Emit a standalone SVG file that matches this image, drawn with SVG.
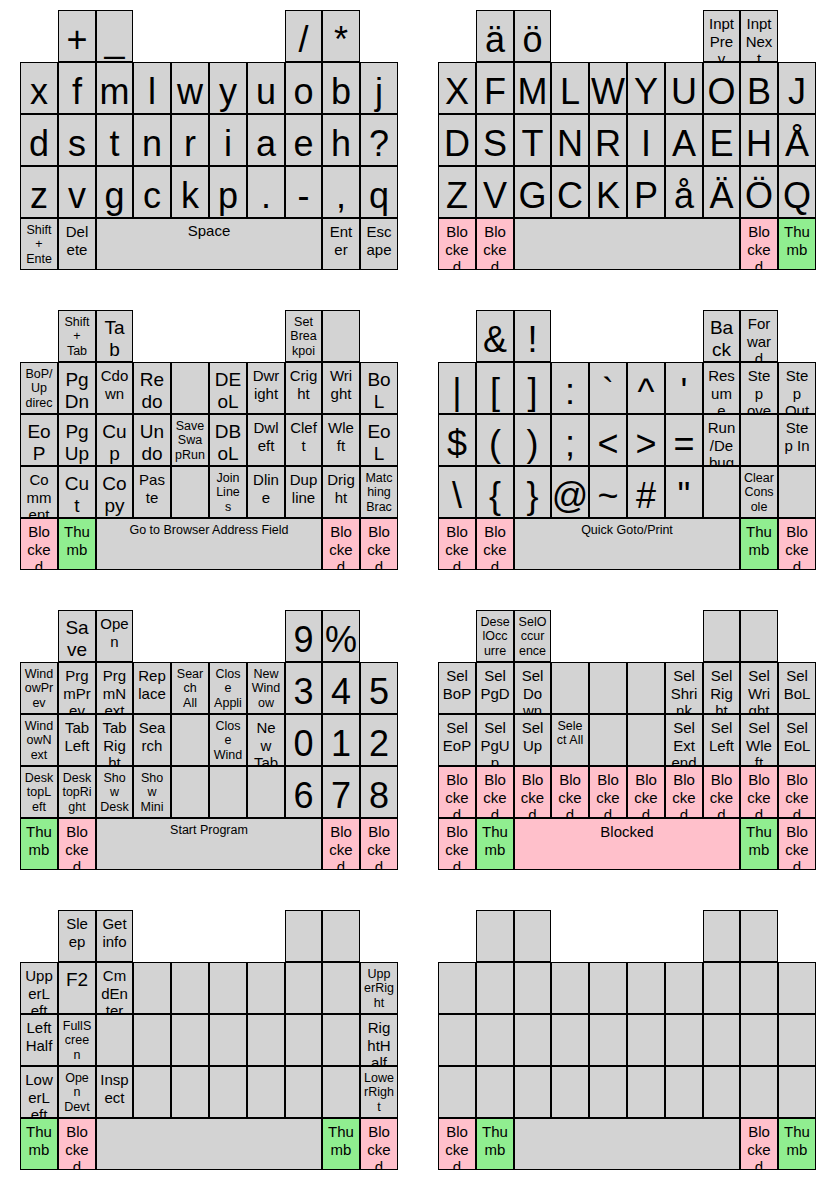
<svg xmlns="http://www.w3.org/2000/svg" width="836" height="1197" viewBox="0 0 836 1197">
<style>
.g{fill:#d3d3d3;stroke:#000;stroke-width:1}
.p{fill:#ffc0cb;stroke:#000;stroke-width:1}
.t{fill:#90ee90;stroke:#000;stroke-width:1}
text{font-family:"Liberation Sans",Arial,Helvetica,sans-serif;text-anchor:middle;fill:#000}
.a{font-size:36px}
.b{font-size:19px}
.c{font-size:15px}
.d{font-size:12.5px}
</style>
<rect width="836" height="1197" fill="#fff"/>

<g id="panel1">
<g id="k1-tc1"><rect class="g" x="58.5" y="10.5" width="37" height="51"/><svg x="59" y="11" width="36" height="50"><text class="a" x="50%" y="40.5">+</text></svg></g>
<g id="k1-tc2"><rect class="g" x="96.5" y="10.5" width="36" height="51"/><svg x="97" y="11" width="35" height="50"><text class="a" x="50%" y="40.5">_</text></svg></g>
<g id="k1-tc7"><rect class="g" x="285.5" y="10.5" width="36" height="51"/><svg x="286" y="11" width="35" height="50"><text class="a" x="50%" y="40.5">/</text></svg></g>
<g id="k1-tc8"><rect class="g" x="322.5" y="10.5" width="37" height="51"/><svg x="323" y="11" width="36" height="50"><text class="a" x="50%" y="40.5">*</text></svg></g>
<g id="k1-1c0"><rect class="g" x="20.5" y="62.5" width="37" height="51"/><svg x="21" y="63" width="36" height="50"><text class="a" x="50%" y="40.5">x</text></svg></g>
<g id="k1-1c1"><rect class="g" x="58.5" y="62.5" width="37" height="51"/><svg x="59" y="63" width="36" height="50"><text class="a" x="50%" y="40.5">f</text></svg></g>
<g id="k1-1c2"><rect class="g" x="96.5" y="62.5" width="36" height="51"/><svg x="97" y="63" width="35" height="50"><text class="a" x="50%" y="40.5">m</text></svg></g>
<g id="k1-1c3"><rect class="g" x="133.5" y="62.5" width="37" height="51"/><svg x="134" y="63" width="36" height="50"><text class="a" x="50%" y="40.5">l</text></svg></g>
<g id="k1-1c4"><rect class="g" x="171.5" y="62.5" width="37" height="51"/><svg x="172" y="63" width="36" height="50"><text class="a" x="50%" y="40.5">w</text></svg></g>
<g id="k1-1c5"><rect class="g" x="209.5" y="62.5" width="37" height="51"/><svg x="210" y="63" width="36" height="50"><text class="a" x="50%" y="40.5">y</text></svg></g>
<g id="k1-1c6"><rect class="g" x="247.5" y="62.5" width="37" height="51"/><svg x="248" y="63" width="36" height="50"><text class="a" x="50%" y="40.5">u</text></svg></g>
<g id="k1-1c7"><rect class="g" x="285.5" y="62.5" width="36" height="51"/><svg x="286" y="63" width="35" height="50"><text class="a" x="50%" y="40.5">o</text></svg></g>
<g id="k1-1c8"><rect class="g" x="322.5" y="62.5" width="37" height="51"/><svg x="323" y="63" width="36" height="50"><text class="a" x="50%" y="40.5">b</text></svg></g>
<g id="k1-1c9"><rect class="g" x="360.5" y="62.5" width="37" height="51"/><svg x="361" y="63" width="36" height="50"><text class="a" x="50%" y="40.5">j</text></svg></g>
<g id="k1-2c0"><rect class="g" x="20.5" y="114.5" width="37" height="51"/><svg x="21" y="115" width="36" height="50"><text class="a" x="50%" y="40.5">d</text></svg></g>
<g id="k1-2c1"><rect class="g" x="58.5" y="114.5" width="37" height="51"/><svg x="59" y="115" width="36" height="50"><text class="a" x="50%" y="40.5">s</text></svg></g>
<g id="k1-2c2"><rect class="g" x="96.5" y="114.5" width="36" height="51"/><svg x="97" y="115" width="35" height="50"><text class="a" x="50%" y="40.5">t</text></svg></g>
<g id="k1-2c3"><rect class="g" x="133.5" y="114.5" width="37" height="51"/><svg x="134" y="115" width="36" height="50"><text class="a" x="50%" y="40.5">n</text></svg></g>
<g id="k1-2c4"><rect class="g" x="171.5" y="114.5" width="37" height="51"/><svg x="172" y="115" width="36" height="50"><text class="a" x="50%" y="40.5">r</text></svg></g>
<g id="k1-2c5"><rect class="g" x="209.5" y="114.5" width="37" height="51"/><svg x="210" y="115" width="36" height="50"><text class="a" x="50%" y="40.5">i</text></svg></g>
<g id="k1-2c6"><rect class="g" x="247.5" y="114.5" width="37" height="51"/><svg x="248" y="115" width="36" height="50"><text class="a" x="50%" y="40.5">a</text></svg></g>
<g id="k1-2c7"><rect class="g" x="285.5" y="114.5" width="36" height="51"/><svg x="286" y="115" width="35" height="50"><text class="a" x="50%" y="40.5">e</text></svg></g>
<g id="k1-2c8"><rect class="g" x="322.5" y="114.5" width="37" height="51"/><svg x="323" y="115" width="36" height="50"><text class="a" x="50%" y="40.5">h</text></svg></g>
<g id="k1-2c9"><rect class="g" x="360.5" y="114.5" width="37" height="51"/><svg x="361" y="115" width="36" height="50"><text class="a" x="50%" y="40.5">?</text></svg></g>
<g id="k1-3c0"><rect class="g" x="20.5" y="166.5" width="37" height="51"/><svg x="21" y="167" width="36" height="50"><text class="a" x="50%" y="40.5">z</text></svg></g>
<g id="k1-3c1"><rect class="g" x="58.5" y="166.5" width="37" height="51"/><svg x="59" y="167" width="36" height="50"><text class="a" x="50%" y="40.5">v</text></svg></g>
<g id="k1-3c2"><rect class="g" x="96.5" y="166.5" width="36" height="51"/><svg x="97" y="167" width="35" height="50"><text class="a" x="50%" y="40.5">g</text></svg></g>
<g id="k1-3c3"><rect class="g" x="133.5" y="166.5" width="37" height="51"/><svg x="134" y="167" width="36" height="50"><text class="a" x="50%" y="40.5">c</text></svg></g>
<g id="k1-3c4"><rect class="g" x="171.5" y="166.5" width="37" height="51"/><svg x="172" y="167" width="36" height="50"><text class="a" x="50%" y="40.5">k</text></svg></g>
<g id="k1-3c5"><rect class="g" x="209.5" y="166.5" width="37" height="51"/><svg x="210" y="167" width="36" height="50"><text class="a" x="50%" y="40.5">p</text></svg></g>
<g id="k1-3c6"><rect class="g" x="247.5" y="166.5" width="37" height="51"/><svg x="248" y="167" width="36" height="50"><text class="a" x="50%" y="40.5">.</text></svg></g>
<g id="k1-3c7"><rect class="g" x="285.5" y="166.5" width="36" height="51"/><svg x="286" y="167" width="35" height="50"><text class="a" x="50%" y="40.5">-</text></svg></g>
<g id="k1-3c8"><rect class="g" x="322.5" y="166.5" width="37" height="51"/><svg x="323" y="167" width="36" height="50"><text class="a" x="50%" y="40.5">,</text></svg></g>
<g id="k1-3c9"><rect class="g" x="360.5" y="166.5" width="37" height="51"/><svg x="361" y="167" width="36" height="50"><text class="a" x="50%" y="40.5">q</text></svg></g>
<g id="k1-hc0"><rect class="g" x="20.5" y="218.5" width="37" height="51"/><svg x="21" y="219" width="36" height="50"><text class="d"><tspan x="50%" y="14.5">Shift</tspan><tspan x="50%" y="29.2">+</tspan><tspan x="50%" y="43.9">Ente</tspan></text></svg></g>
<g id="k1-hc1"><rect class="g" x="58.5" y="218.5" width="37" height="51"/><svg x="59" y="219" width="36" height="50"><text class="c"><tspan x="50%" y="18">Del</tspan><tspan x="50%" y="35.7">ete</tspan></text></svg></g>
<g id="k1-hw"><rect class="g" x="96.5" y="218.5" width="225" height="51"/><svg x="97" y="219" width="224" height="50"><text class="c" x="50%" y="17">Space</text></svg></g>
<g id="k1-hc8"><rect class="g" x="322.5" y="218.5" width="37" height="51"/><svg x="323" y="219" width="36" height="50"><text class="c"><tspan x="50%" y="18">Ent</tspan><tspan x="50%" y="35.7">er</tspan></text></svg></g>
<g id="k1-hc9"><rect class="g" x="360.5" y="218.5" width="37" height="51"/><svg x="361" y="219" width="36" height="50"><text class="c"><tspan x="50%" y="18">Esc</tspan><tspan x="50%" y="35.7">ape</tspan></text></svg></g>
</g>

<g id="panel2" transform="translate(418,0)">
<g id="k2-tc1"><rect class="g" x="58.5" y="10.5" width="37" height="51"/><svg x="59" y="11" width="36" height="50"><text class="a" x="50%" y="40.5">ä</text></svg></g>
<g id="k2-tc2"><rect class="g" x="96.5" y="10.5" width="36" height="51"/><svg x="97" y="11" width="35" height="50"><text class="a" x="50%" y="40.5">ö</text></svg></g>
<g id="k2-tc7"><rect class="g" x="285.5" y="10.5" width="36" height="51"/><svg x="286" y="11" width="35" height="50"><text class="c"><tspan x="50%" y="18">Inpt</tspan><tspan x="50%" y="35.7">Pre</tspan><tspan x="50%" y="53.4">v</tspan></text></svg></g>
<g id="k2-tc8"><rect class="g" x="322.5" y="10.5" width="37" height="51"/><svg x="323" y="11" width="36" height="50"><text class="c"><tspan x="50%" y="18">Inpt</tspan><tspan x="50%" y="35.7">Nex</tspan><tspan x="50%" y="53.4">t</tspan></text></svg></g>
<g id="k2-1c0"><rect class="g" x="20.5" y="62.5" width="37" height="51"/><svg x="21" y="63" width="36" height="50"><text class="a" x="50%" y="40.5">X</text></svg></g>
<g id="k2-1c1"><rect class="g" x="58.5" y="62.5" width="37" height="51"/><svg x="59" y="63" width="36" height="50"><text class="a" x="50%" y="40.5">F</text></svg></g>
<g id="k2-1c2"><rect class="g" x="96.5" y="62.5" width="36" height="51"/><svg x="97" y="63" width="35" height="50"><text class="a" x="50%" y="40.5">M</text></svg></g>
<g id="k2-1c3"><rect class="g" x="133.5" y="62.5" width="37" height="51"/><svg x="134" y="63" width="36" height="50"><text class="a" x="50%" y="40.5">L</text></svg></g>
<g id="k2-1c4"><rect class="g" x="171.5" y="62.5" width="37" height="51"/><svg x="172" y="63" width="36" height="50"><text class="a" x="50%" y="40.5">W</text></svg></g>
<g id="k2-1c5"><rect class="g" x="209.5" y="62.5" width="37" height="51"/><svg x="210" y="63" width="36" height="50"><text class="a" x="50%" y="40.5">Y</text></svg></g>
<g id="k2-1c6"><rect class="g" x="247.5" y="62.5" width="37" height="51"/><svg x="248" y="63" width="36" height="50"><text class="a" x="50%" y="40.5">U</text></svg></g>
<g id="k2-1c7"><rect class="g" x="285.5" y="62.5" width="36" height="51"/><svg x="286" y="63" width="35" height="50"><text class="a" x="50%" y="40.5">O</text></svg></g>
<g id="k2-1c8"><rect class="g" x="322.5" y="62.5" width="37" height="51"/><svg x="323" y="63" width="36" height="50"><text class="a" x="50%" y="40.5">B</text></svg></g>
<g id="k2-1c9"><rect class="g" x="360.5" y="62.5" width="37" height="51"/><svg x="361" y="63" width="36" height="50"><text class="a" x="50%" y="40.5">J</text></svg></g>
<g id="k2-2c0"><rect class="g" x="20.5" y="114.5" width="37" height="51"/><svg x="21" y="115" width="36" height="50"><text class="a" x="50%" y="40.5">D</text></svg></g>
<g id="k2-2c1"><rect class="g" x="58.5" y="114.5" width="37" height="51"/><svg x="59" y="115" width="36" height="50"><text class="a" x="50%" y="40.5">S</text></svg></g>
<g id="k2-2c2"><rect class="g" x="96.5" y="114.5" width="36" height="51"/><svg x="97" y="115" width="35" height="50"><text class="a" x="50%" y="40.5">T</text></svg></g>
<g id="k2-2c3"><rect class="g" x="133.5" y="114.5" width="37" height="51"/><svg x="134" y="115" width="36" height="50"><text class="a" x="50%" y="40.5">N</text></svg></g>
<g id="k2-2c4"><rect class="g" x="171.5" y="114.5" width="37" height="51"/><svg x="172" y="115" width="36" height="50"><text class="a" x="50%" y="40.5">R</text></svg></g>
<g id="k2-2c5"><rect class="g" x="209.5" y="114.5" width="37" height="51"/><svg x="210" y="115" width="36" height="50"><text class="a" x="50%" y="40.5">I</text></svg></g>
<g id="k2-2c6"><rect class="g" x="247.5" y="114.5" width="37" height="51"/><svg x="248" y="115" width="36" height="50"><text class="a" x="50%" y="40.5">A</text></svg></g>
<g id="k2-2c7"><rect class="g" x="285.5" y="114.5" width="36" height="51"/><svg x="286" y="115" width="35" height="50"><text class="a" x="50%" y="40.5">E</text></svg></g>
<g id="k2-2c8"><rect class="g" x="322.5" y="114.5" width="37" height="51"/><svg x="323" y="115" width="36" height="50"><text class="a" x="50%" y="40.5">H</text></svg></g>
<g id="k2-2c9"><rect class="g" x="360.5" y="114.5" width="37" height="51"/><svg x="361" y="115" width="36" height="50"><text class="a" x="50%" y="40.5">Å</text></svg></g>
<g id="k2-3c0"><rect class="g" x="20.5" y="166.5" width="37" height="51"/><svg x="21" y="167" width="36" height="50"><text class="a" x="50%" y="40.5">Z</text></svg></g>
<g id="k2-3c1"><rect class="g" x="58.5" y="166.5" width="37" height="51"/><svg x="59" y="167" width="36" height="50"><text class="a" x="50%" y="40.5">V</text></svg></g>
<g id="k2-3c2"><rect class="g" x="96.5" y="166.5" width="36" height="51"/><svg x="97" y="167" width="35" height="50"><text class="a" x="50%" y="40.5">G</text></svg></g>
<g id="k2-3c3"><rect class="g" x="133.5" y="166.5" width="37" height="51"/><svg x="134" y="167" width="36" height="50"><text class="a" x="50%" y="40.5">C</text></svg></g>
<g id="k2-3c4"><rect class="g" x="171.5" y="166.5" width="37" height="51"/><svg x="172" y="167" width="36" height="50"><text class="a" x="50%" y="40.5">K</text></svg></g>
<g id="k2-3c5"><rect class="g" x="209.5" y="166.5" width="37" height="51"/><svg x="210" y="167" width="36" height="50"><text class="a" x="50%" y="40.5">P</text></svg></g>
<g id="k2-3c6"><rect class="g" x="247.5" y="166.5" width="37" height="51"/><svg x="248" y="167" width="36" height="50"><text class="a" x="50%" y="40.5">å</text></svg></g>
<g id="k2-3c7"><rect class="g" x="285.5" y="166.5" width="36" height="51"/><svg x="286" y="167" width="35" height="50"><text class="a" x="50%" y="40.5">Ä</text></svg></g>
<g id="k2-3c8"><rect class="g" x="322.5" y="166.5" width="37" height="51"/><svg x="323" y="167" width="36" height="50"><text class="a" x="50%" y="40.5">Ö</text></svg></g>
<g id="k2-3c9"><rect class="g" x="360.5" y="166.5" width="37" height="51"/><svg x="361" y="167" width="36" height="50"><text class="a" x="50%" y="40.5">Q</text></svg></g>
<g id="k2-hc0"><rect class="p" x="20.5" y="218.5" width="37" height="51"/><svg x="21" y="219" width="36" height="50"><text class="c"><tspan x="50%" y="18">Blo</tspan><tspan x="50%" y="35.7">cke</tspan><tspan x="50%" y="53.4">d</tspan></text></svg></g>
<g id="k2-hc1"><rect class="p" x="58.5" y="218.5" width="37" height="51"/><svg x="59" y="219" width="36" height="50"><text class="c"><tspan x="50%" y="18">Blo</tspan><tspan x="50%" y="35.7">cke</tspan><tspan x="50%" y="53.4">d</tspan></text></svg></g>
<g id="k2-hw"><rect class="g" x="96.5" y="218.5" width="225" height="51"/></g>
<g id="k2-hc8"><rect class="p" x="322.5" y="218.5" width="37" height="51"/><svg x="323" y="219" width="36" height="50"><text class="c"><tspan x="50%" y="18">Blo</tspan><tspan x="50%" y="35.7">cke</tspan><tspan x="50%" y="53.4">d</tspan></text></svg></g>
<g id="k2-hc9"><rect class="t" x="360.5" y="218.5" width="37" height="51"/><svg x="361" y="219" width="36" height="50"><text class="c"><tspan x="50%" y="18">Thu</tspan><tspan x="50%" y="35.7">mb</tspan></text></svg></g>
</g>

<g id="panel3" transform="translate(0,300)">
<g id="k3-tc1"><rect class="g" x="58.5" y="10.5" width="37" height="51"/><svg x="59" y="11" width="36" height="50"><text class="d"><tspan x="50%" y="14.5">Shift</tspan><tspan x="50%" y="29.2">+</tspan><tspan x="50%" y="43.9">Tab</tspan></text></svg></g>
<g id="k3-tc2"><rect class="g" x="96.5" y="10.5" width="36" height="51"/><svg x="97" y="11" width="35" height="50"><text class="b"><tspan x="50%" y="23">Ta</tspan><tspan x="50%" y="45">b</tspan></text></svg></g>
<g id="k3-tc7"><rect class="g" x="285.5" y="10.5" width="36" height="51"/><svg x="286" y="11" width="35" height="50"><text class="d"><tspan x="50%" y="14.5">Set</tspan><tspan x="50%" y="29.2">Brea</tspan><tspan x="50%" y="43.9">kpoi</tspan></text></svg></g>
<g id="k3-tc8"><rect class="g" x="322.5" y="10.5" width="37" height="51"/></g>
<g id="k3-1c0"><rect class="g" x="20.5" y="62.5" width="37" height="51"/><svg x="21" y="63" width="36" height="50"><text class="d"><tspan x="50%" y="14.5">BoP/</tspan><tspan x="50%" y="29.2">Up</tspan><tspan x="50%" y="43.9">direc</tspan></text></svg></g>
<g id="k3-1c1"><rect class="g" x="58.5" y="62.5" width="37" height="51"/><svg x="59" y="63" width="36" height="50"><text class="b"><tspan x="50%" y="23">Pg</tspan><tspan x="50%" y="45">Dn</tspan></text></svg></g>
<g id="k3-1c2"><rect class="g" x="96.5" y="62.5" width="36" height="51"/><svg x="97" y="63" width="35" height="50"><text class="c"><tspan x="50%" y="18">Cdo</tspan><tspan x="50%" y="35.7">wn</tspan></text></svg></g>
<g id="k3-1c3"><rect class="g" x="133.5" y="62.5" width="37" height="51"/><svg x="134" y="63" width="36" height="50"><text class="b"><tspan x="50%" y="23">Re</tspan><tspan x="50%" y="45">do</tspan></text></svg></g>
<g id="k3-1c4"><rect class="g" x="171.5" y="62.5" width="37" height="51"/></g>
<g id="k3-1c5"><rect class="g" x="209.5" y="62.5" width="37" height="51"/><svg x="210" y="63" width="36" height="50"><text class="b"><tspan x="50%" y="23">DE</tspan><tspan x="50%" y="45">oL</tspan></text></svg></g>
<g id="k3-1c6"><rect class="g" x="247.5" y="62.5" width="37" height="51"/><svg x="248" y="63" width="36" height="50"><text class="c"><tspan x="50%" y="18">Dwr</tspan><tspan x="50%" y="35.7">ight</tspan></text></svg></g>
<g id="k3-1c7"><rect class="g" x="285.5" y="62.5" width="36" height="51"/><svg x="286" y="63" width="35" height="50"><text class="c"><tspan x="50%" y="18">Crig</tspan><tspan x="50%" y="35.7">ht</tspan></text></svg></g>
<g id="k3-1c8"><rect class="g" x="322.5" y="62.5" width="37" height="51"/><svg x="323" y="63" width="36" height="50"><text class="c"><tspan x="50%" y="18">Wri</tspan><tspan x="50%" y="35.7">ght</tspan></text></svg></g>
<g id="k3-1c9"><rect class="g" x="360.5" y="62.5" width="37" height="51"/><svg x="361" y="63" width="36" height="50"><text class="b"><tspan x="50%" y="23">Bo</tspan><tspan x="50%" y="45">L</tspan></text></svg></g>
<g id="k3-2c0"><rect class="g" x="20.5" y="114.5" width="37" height="51"/><svg x="21" y="115" width="36" height="50"><text class="b"><tspan x="50%" y="23">Eo</tspan><tspan x="50%" y="45">P</tspan></text></svg></g>
<g id="k3-2c1"><rect class="g" x="58.5" y="114.5" width="37" height="51"/><svg x="59" y="115" width="36" height="50"><text class="b"><tspan x="50%" y="23">Pg</tspan><tspan x="50%" y="45">Up</tspan></text></svg></g>
<g id="k3-2c2"><rect class="g" x="96.5" y="114.5" width="36" height="51"/><svg x="97" y="115" width="35" height="50"><text class="b"><tspan x="50%" y="23">Cu</tspan><tspan x="50%" y="45">p</tspan></text></svg></g>
<g id="k3-2c3"><rect class="g" x="133.5" y="114.5" width="37" height="51"/><svg x="134" y="115" width="36" height="50"><text class="b"><tspan x="50%" y="23">Un</tspan><tspan x="50%" y="45">do</tspan></text></svg></g>
<g id="k3-2c4"><rect class="g" x="171.5" y="114.5" width="37" height="51"/><svg x="172" y="115" width="36" height="50"><text class="d"><tspan x="50%" y="14.5">Save</tspan><tspan x="50%" y="29.2">Swa</tspan><tspan x="50%" y="43.9">pRun</tspan></text></svg></g>
<g id="k3-2c5"><rect class="g" x="209.5" y="114.5" width="37" height="51"/><svg x="210" y="115" width="36" height="50"><text class="b"><tspan x="50%" y="23">DB</tspan><tspan x="50%" y="45">oL</tspan></text></svg></g>
<g id="k3-2c6"><rect class="g" x="247.5" y="114.5" width="37" height="51"/><svg x="248" y="115" width="36" height="50"><text class="c"><tspan x="50%" y="18">Dwl</tspan><tspan x="50%" y="35.7">eft</tspan></text></svg></g>
<g id="k3-2c7"><rect class="g" x="285.5" y="114.5" width="36" height="51"/><svg x="286" y="115" width="35" height="50"><text class="c"><tspan x="50%" y="18">Clef</tspan><tspan x="50%" y="35.7">t</tspan></text></svg></g>
<g id="k3-2c8"><rect class="g" x="322.5" y="114.5" width="37" height="51"/><svg x="323" y="115" width="36" height="50"><text class="c"><tspan x="50%" y="18">Wle</tspan><tspan x="50%" y="35.7">ft</tspan></text></svg></g>
<g id="k3-2c9"><rect class="g" x="360.5" y="114.5" width="37" height="51"/><svg x="361" y="115" width="36" height="50"><text class="b"><tspan x="50%" y="23">Eo</tspan><tspan x="50%" y="45">L</tspan></text></svg></g>
<g id="k3-3c0"><rect class="g" x="20.5" y="166.5" width="37" height="51"/><svg x="21" y="167" width="36" height="50"><text class="c"><tspan x="50%" y="18">Co</tspan><tspan x="50%" y="35.7">mm</tspan><tspan x="50%" y="53.4">ent</tspan></text></svg></g>
<g id="k3-3c1"><rect class="g" x="58.5" y="166.5" width="37" height="51"/><svg x="59" y="167" width="36" height="50"><text class="b"><tspan x="50%" y="23">Cu</tspan><tspan x="50%" y="45">t</tspan></text></svg></g>
<g id="k3-3c2"><rect class="g" x="96.5" y="166.5" width="36" height="51"/><svg x="97" y="167" width="35" height="50"><text class="b"><tspan x="50%" y="23">Co</tspan><tspan x="50%" y="45">py</tspan></text></svg></g>
<g id="k3-3c3"><rect class="g" x="133.5" y="166.5" width="37" height="51"/><svg x="134" y="167" width="36" height="50"><text class="c"><tspan x="50%" y="18">Pas</tspan><tspan x="50%" y="35.7">te</tspan></text></svg></g>
<g id="k3-3c4"><rect class="g" x="171.5" y="166.5" width="37" height="51"/></g>
<g id="k3-3c5"><rect class="g" x="209.5" y="166.5" width="37" height="51"/><svg x="210" y="167" width="36" height="50"><text class="d"><tspan x="50%" y="14.5">Join</tspan><tspan x="50%" y="29.2">Line</tspan><tspan x="50%" y="43.9">s</tspan></text></svg></g>
<g id="k3-3c6"><rect class="g" x="247.5" y="166.5" width="37" height="51"/><svg x="248" y="167" width="36" height="50"><text class="c"><tspan x="50%" y="18">Dlin</tspan><tspan x="50%" y="35.7">e</tspan></text></svg></g>
<g id="k3-3c7"><rect class="g" x="285.5" y="166.5" width="36" height="51"/><svg x="286" y="167" width="35" height="50"><text class="c"><tspan x="50%" y="18">Dup</tspan><tspan x="50%" y="35.7">line</tspan></text></svg></g>
<g id="k3-3c8"><rect class="g" x="322.5" y="166.5" width="37" height="51"/><svg x="323" y="167" width="36" height="50"><text class="c"><tspan x="50%" y="18">Drig</tspan><tspan x="50%" y="35.7">ht</tspan></text></svg></g>
<g id="k3-3c9"><rect class="g" x="360.5" y="166.5" width="37" height="51"/><svg x="361" y="167" width="36" height="50"><text class="d"><tspan x="50%" y="14.5">Matc</tspan><tspan x="50%" y="29.2">hing</tspan><tspan x="50%" y="43.9">Brac</tspan></text></svg></g>
<g id="k3-hc0"><rect class="p" x="20.5" y="218.5" width="37" height="51"/><svg x="21" y="219" width="36" height="50"><text class="c"><tspan x="50%" y="18">Blo</tspan><tspan x="50%" y="35.7">cke</tspan><tspan x="50%" y="53.4">d</tspan></text></svg></g>
<g id="k3-hc1"><rect class="t" x="58.5" y="218.5" width="37" height="51"/><svg x="59" y="219" width="36" height="50"><text class="c"><tspan x="50%" y="18">Thu</tspan><tspan x="50%" y="35.7">mb</tspan></text></svg></g>
<g id="k3-hw"><rect class="g" x="96.5" y="218.5" width="225" height="51"/><svg x="97" y="219" width="224" height="50"><text class="d" x="50%" y="14.5">Go to Browser Address Field</text></svg></g>
<g id="k3-hc8"><rect class="p" x="322.5" y="218.5" width="37" height="51"/><svg x="323" y="219" width="36" height="50"><text class="c"><tspan x="50%" y="18">Blo</tspan><tspan x="50%" y="35.7">cke</tspan><tspan x="50%" y="53.4">d</tspan></text></svg></g>
<g id="k3-hc9"><rect class="p" x="360.5" y="218.5" width="37" height="51"/><svg x="361" y="219" width="36" height="50"><text class="c"><tspan x="50%" y="18">Blo</tspan><tspan x="50%" y="35.7">cke</tspan><tspan x="50%" y="53.4">d</tspan></text></svg></g>
</g>

<g id="panel4" transform="translate(418,300)">
<g id="k4-tc1"><rect class="g" x="58.5" y="10.5" width="37" height="51"/><svg x="59" y="11" width="36" height="50"><text class="a" x="50%" y="40.5">&amp;</text></svg></g>
<g id="k4-tc2"><rect class="g" x="96.5" y="10.5" width="36" height="51"/><svg x="97" y="11" width="35" height="50"><text class="a" x="50%" y="40.5">!</text></svg></g>
<g id="k4-tc7"><rect class="g" x="285.5" y="10.5" width="36" height="51"/><svg x="286" y="11" width="35" height="50"><text class="b"><tspan x="50%" y="23">Ba</tspan><tspan x="50%" y="45">ck</tspan></text></svg></g>
<g id="k4-tc8"><rect class="g" x="322.5" y="10.5" width="37" height="51"/><svg x="323" y="11" width="36" height="50"><text class="c"><tspan x="50%" y="18">For</tspan><tspan x="50%" y="35.7">war</tspan><tspan x="50%" y="53.4">d</tspan></text></svg></g>
<g id="k4-1c0"><rect class="g" x="20.5" y="62.5" width="37" height="51"/><svg x="21" y="63" width="36" height="50"><text class="a" x="50%" y="40.5">|</text></svg></g>
<g id="k4-1c1"><rect class="g" x="58.5" y="62.5" width="37" height="51"/><svg x="59" y="63" width="36" height="50"><text class="a" x="50%" y="40.5">[</text></svg></g>
<g id="k4-1c2"><rect class="g" x="96.5" y="62.5" width="36" height="51"/><svg x="97" y="63" width="35" height="50"><text class="a" x="50%" y="40.5">]</text></svg></g>
<g id="k4-1c3"><rect class="g" x="133.5" y="62.5" width="37" height="51"/><svg x="134" y="63" width="36" height="50"><text class="a" x="50%" y="40.5">:</text></svg></g>
<g id="k4-1c4"><rect class="g" x="171.5" y="62.5" width="37" height="51"/><svg x="172" y="63" width="36" height="50"><text class="a" x="50%" y="40.5">`</text></svg></g>
<g id="k4-1c5"><rect class="g" x="209.5" y="62.5" width="37" height="51"/><svg x="210" y="63" width="36" height="50"><text class="a" x="50%" y="40.5">^</text></svg></g>
<g id="k4-1c6"><rect class="g" x="247.5" y="62.5" width="37" height="51"/><svg x="248" y="63" width="36" height="50"><text class="a" x="50%" y="40.5">'</text></svg></g>
<g id="k4-1c7"><rect class="g" x="285.5" y="62.5" width="36" height="51"/><svg x="286" y="63" width="35" height="50"><text class="c"><tspan x="50%" y="18">Res</tspan><tspan x="50%" y="35.7">um</tspan><tspan x="50%" y="53.4">e</tspan></text></svg></g>
<g id="k4-1c8"><rect class="g" x="322.5" y="62.5" width="37" height="51"/><svg x="323" y="63" width="36" height="50"><text class="c"><tspan x="50%" y="18">Ste</tspan><tspan x="50%" y="35.7">p</tspan><tspan x="50%" y="53.4">ove</tspan></text></svg></g>
<g id="k4-1c9"><rect class="g" x="360.5" y="62.5" width="37" height="51"/><svg x="361" y="63" width="36" height="50"><text class="c"><tspan x="50%" y="18">Ste</tspan><tspan x="50%" y="35.7">p</tspan><tspan x="50%" y="53.4">Out</tspan></text></svg></g>
<g id="k4-2c0"><rect class="g" x="20.5" y="114.5" width="37" height="51"/><svg x="21" y="115" width="36" height="50"><text class="a" x="50%" y="40.5">$</text></svg></g>
<g id="k4-2c1"><rect class="g" x="58.5" y="114.5" width="37" height="51"/><svg x="59" y="115" width="36" height="50"><text class="a" x="50%" y="40.5">(</text></svg></g>
<g id="k4-2c2"><rect class="g" x="96.5" y="114.5" width="36" height="51"/><svg x="97" y="115" width="35" height="50"><text class="a" x="50%" y="40.5">)</text></svg></g>
<g id="k4-2c3"><rect class="g" x="133.5" y="114.5" width="37" height="51"/><svg x="134" y="115" width="36" height="50"><text class="a" x="50%" y="40.5">;</text></svg></g>
<g id="k4-2c4"><rect class="g" x="171.5" y="114.5" width="37" height="51"/><svg x="172" y="115" width="36" height="50"><text class="a" x="50%" y="40.5">&lt;</text></svg></g>
<g id="k4-2c5"><rect class="g" x="209.5" y="114.5" width="37" height="51"/><svg x="210" y="115" width="36" height="50"><text class="a" x="50%" y="40.5">&gt;</text></svg></g>
<g id="k4-2c6"><rect class="g" x="247.5" y="114.5" width="37" height="51"/><svg x="248" y="115" width="36" height="50"><text class="a" x="50%" y="40.5">=</text></svg></g>
<g id="k4-2c7"><rect class="g" x="285.5" y="114.5" width="36" height="51"/><svg x="286" y="115" width="35" height="50"><text class="c"><tspan x="50%" y="18">Run</tspan><tspan x="50%" y="35.7">/De</tspan><tspan x="50%" y="53.4">bug</tspan></text></svg></g>
<g id="k4-2c8"><rect class="g" x="322.5" y="114.5" width="37" height="51"/></g>
<g id="k4-2c9"><rect class="g" x="360.5" y="114.5" width="37" height="51"/><svg x="361" y="115" width="36" height="50"><text class="c"><tspan x="50%" y="18">Ste</tspan><tspan x="50%" y="35.7">p In</tspan></text></svg></g>
<g id="k4-3c0"><rect class="g" x="20.5" y="166.5" width="37" height="51"/><svg x="21" y="167" width="36" height="50"><text class="a" x="50%" y="40.5">\</text></svg></g>
<g id="k4-3c1"><rect class="g" x="58.5" y="166.5" width="37" height="51"/><svg x="59" y="167" width="36" height="50"><text class="a" x="50%" y="40.5">{</text></svg></g>
<g id="k4-3c2"><rect class="g" x="96.5" y="166.5" width="36" height="51"/><svg x="97" y="167" width="35" height="50"><text class="a" x="50%" y="40.5">}</text></svg></g>
<g id="k4-3c3"><rect class="g" x="133.5" y="166.5" width="37" height="51"/><svg x="134" y="167" width="36" height="50"><text class="a" x="50%" y="40.5">@</text></svg></g>
<g id="k4-3c4"><rect class="g" x="171.5" y="166.5" width="37" height="51"/><svg x="172" y="167" width="36" height="50"><text class="a" x="50%" y="40.5">~</text></svg></g>
<g id="k4-3c5"><rect class="g" x="209.5" y="166.5" width="37" height="51"/><svg x="210" y="167" width="36" height="50"><text class="a" x="50%" y="40.5">#</text></svg></g>
<g id="k4-3c6"><rect class="g" x="247.5" y="166.5" width="37" height="51"/><svg x="248" y="167" width="36" height="50"><text class="a" x="50%" y="40.5">"</text></svg></g>
<g id="k4-3c7"><rect class="g" x="285.5" y="166.5" width="36" height="51"/></g>
<g id="k4-3c8"><rect class="g" x="322.5" y="166.5" width="37" height="51"/><svg x="323" y="167" width="36" height="50"><text class="d"><tspan x="50%" y="14.5">Clear</tspan><tspan x="50%" y="29.2">Cons</tspan><tspan x="50%" y="43.9">ole</tspan></text></svg></g>
<g id="k4-3c9"><rect class="g" x="360.5" y="166.5" width="37" height="51"/></g>
<g id="k4-hc0"><rect class="p" x="20.5" y="218.5" width="37" height="51"/><svg x="21" y="219" width="36" height="50"><text class="c"><tspan x="50%" y="18">Blo</tspan><tspan x="50%" y="35.7">cke</tspan><tspan x="50%" y="53.4">d</tspan></text></svg></g>
<g id="k4-hc1"><rect class="p" x="58.5" y="218.5" width="37" height="51"/><svg x="59" y="219" width="36" height="50"><text class="c"><tspan x="50%" y="18">Blo</tspan><tspan x="50%" y="35.7">cke</tspan><tspan x="50%" y="53.4">d</tspan></text></svg></g>
<g id="k4-hw"><rect class="g" x="96.5" y="218.5" width="225" height="51"/><svg x="97" y="219" width="224" height="50"><text class="d" x="50%" y="14.5">Quick Goto/Print</text></svg></g>
<g id="k4-hc8"><rect class="t" x="322.5" y="218.5" width="37" height="51"/><svg x="323" y="219" width="36" height="50"><text class="c"><tspan x="50%" y="18">Thu</tspan><tspan x="50%" y="35.7">mb</tspan></text></svg></g>
<g id="k4-hc9"><rect class="p" x="360.5" y="218.5" width="37" height="51"/><svg x="361" y="219" width="36" height="50"><text class="c"><tspan x="50%" y="18">Blo</tspan><tspan x="50%" y="35.7">cke</tspan><tspan x="50%" y="53.4">d</tspan></text></svg></g>
</g>

<g id="panel5" transform="translate(0,600)">
<g id="k5-tc1"><rect class="g" x="58.5" y="10.5" width="37" height="51"/><svg x="59" y="11" width="36" height="50"><text class="b"><tspan x="50%" y="23">Sa</tspan><tspan x="50%" y="45">ve</tspan></text></svg></g>
<g id="k5-tc2"><rect class="g" x="96.5" y="10.5" width="36" height="51"/><svg x="97" y="11" width="35" height="50"><text class="c"><tspan x="50%" y="18">Ope</tspan><tspan x="50%" y="35.7">n</tspan></text></svg></g>
<g id="k5-tc7"><rect class="g" x="285.5" y="10.5" width="36" height="51"/><svg x="286" y="11" width="35" height="50"><text class="a" x="50%" y="40.5">9</text></svg></g>
<g id="k5-tc8"><rect class="g" x="322.5" y="10.5" width="37" height="51"/><svg x="323" y="11" width="36" height="50"><text class="a" x="50%" y="40.5">%</text></svg></g>
<g id="k5-1c0"><rect class="g" x="20.5" y="62.5" width="37" height="51"/><svg x="21" y="63" width="36" height="50"><text class="d"><tspan x="50%" y="14.5">Wind</tspan><tspan x="50%" y="29.2">owPr</tspan><tspan x="50%" y="43.9">ev</tspan></text></svg></g>
<g id="k5-1c1"><rect class="g" x="58.5" y="62.5" width="37" height="51"/><svg x="59" y="63" width="36" height="50"><text class="c"><tspan x="50%" y="18">Prg</tspan><tspan x="50%" y="35.7">mPr</tspan><tspan x="50%" y="53.4">ev</tspan></text></svg></g>
<g id="k5-1c2"><rect class="g" x="96.5" y="62.5" width="36" height="51"/><svg x="97" y="63" width="35" height="50"><text class="c"><tspan x="50%" y="18">Prg</tspan><tspan x="50%" y="35.7">mN</tspan><tspan x="50%" y="53.4">ext</tspan></text></svg></g>
<g id="k5-1c3"><rect class="g" x="133.5" y="62.5" width="37" height="51"/><svg x="134" y="63" width="36" height="50"><text class="c"><tspan x="50%" y="18">Rep</tspan><tspan x="50%" y="35.7">lace</tspan></text></svg></g>
<g id="k5-1c4"><rect class="g" x="171.5" y="62.5" width="37" height="51"/><svg x="172" y="63" width="36" height="50"><text class="d"><tspan x="50%" y="14.5">Sear</tspan><tspan x="50%" y="29.2">ch</tspan><tspan x="50%" y="43.9">All</tspan></text></svg></g>
<g id="k5-1c5"><rect class="g" x="209.5" y="62.5" width="37" height="51"/><svg x="210" y="63" width="36" height="50"><text class="d"><tspan x="50%" y="14.5">Clos</tspan><tspan x="50%" y="29.2">e</tspan><tspan x="50%" y="43.9">Appli</tspan></text></svg></g>
<g id="k5-1c6"><rect class="g" x="247.5" y="62.5" width="37" height="51"/><svg x="248" y="63" width="36" height="50"><text class="d"><tspan x="50%" y="14.5">New</tspan><tspan x="50%" y="29.2">Wind</tspan><tspan x="50%" y="43.9">ow</tspan></text></svg></g>
<g id="k5-1c7"><rect class="g" x="285.5" y="62.5" width="36" height="51"/><svg x="286" y="63" width="35" height="50"><text class="a" x="50%" y="40.5">3</text></svg></g>
<g id="k5-1c8"><rect class="g" x="322.5" y="62.5" width="37" height="51"/><svg x="323" y="63" width="36" height="50"><text class="a" x="50%" y="40.5">4</text></svg></g>
<g id="k5-1c9"><rect class="g" x="360.5" y="62.5" width="37" height="51"/><svg x="361" y="63" width="36" height="50"><text class="a" x="50%" y="40.5">5</text></svg></g>
<g id="k5-2c0"><rect class="g" x="20.5" y="114.5" width="37" height="51"/><svg x="21" y="115" width="36" height="50"><text class="d"><tspan x="50%" y="14.5">Wind</tspan><tspan x="50%" y="29.2">owN</tspan><tspan x="50%" y="43.9">ext</tspan></text></svg></g>
<g id="k5-2c1"><rect class="g" x="58.5" y="114.5" width="37" height="51"/><svg x="59" y="115" width="36" height="50"><text class="c"><tspan x="50%" y="18">Tab</tspan><tspan x="50%" y="35.7">Left</tspan></text></svg></g>
<g id="k5-2c2"><rect class="g" x="96.5" y="114.5" width="36" height="51"/><svg x="97" y="115" width="35" height="50"><text class="c"><tspan x="50%" y="18">Tab</tspan><tspan x="50%" y="35.7">Rig</tspan><tspan x="50%" y="53.4">ht</tspan></text></svg></g>
<g id="k5-2c3"><rect class="g" x="133.5" y="114.5" width="37" height="51"/><svg x="134" y="115" width="36" height="50"><text class="c"><tspan x="50%" y="18">Sea</tspan><tspan x="50%" y="35.7">rch</tspan></text></svg></g>
<g id="k5-2c4"><rect class="g" x="171.5" y="114.5" width="37" height="51"/></g>
<g id="k5-2c5"><rect class="g" x="209.5" y="114.5" width="37" height="51"/><svg x="210" y="115" width="36" height="50"><text class="d"><tspan x="50%" y="14.5">Clos</tspan><tspan x="50%" y="29.2">e</tspan><tspan x="50%" y="43.9">Wind</tspan></text></svg></g>
<g id="k5-2c6"><rect class="g" x="247.5" y="114.5" width="37" height="51"/><svg x="248" y="115" width="36" height="50"><text class="c"><tspan x="50%" y="18">Ne</tspan><tspan x="50%" y="35.7">w</tspan><tspan x="50%" y="53.4">Tab</tspan></text></svg></g>
<g id="k5-2c7"><rect class="g" x="285.5" y="114.5" width="36" height="51"/><svg x="286" y="115" width="35" height="50"><text class="a" x="50%" y="40.5">0</text></svg></g>
<g id="k5-2c8"><rect class="g" x="322.5" y="114.5" width="37" height="51"/><svg x="323" y="115" width="36" height="50"><text class="a" x="50%" y="40.5">1</text></svg></g>
<g id="k5-2c9"><rect class="g" x="360.5" y="114.5" width="37" height="51"/><svg x="361" y="115" width="36" height="50"><text class="a" x="50%" y="40.5">2</text></svg></g>
<g id="k5-3c0"><rect class="g" x="20.5" y="166.5" width="37" height="51"/><svg x="21" y="167" width="36" height="50"><text class="d"><tspan x="50%" y="14.5">Desk</tspan><tspan x="50%" y="29.2">topL</tspan><tspan x="50%" y="43.9">eft</tspan></text></svg></g>
<g id="k5-3c1"><rect class="g" x="58.5" y="166.5" width="37" height="51"/><svg x="59" y="167" width="36" height="50"><text class="d"><tspan x="50%" y="14.5">Desk</tspan><tspan x="50%" y="29.2">topRi</tspan><tspan x="50%" y="43.9">ght</tspan></text></svg></g>
<g id="k5-3c2"><rect class="g" x="96.5" y="166.5" width="36" height="51"/><svg x="97" y="167" width="35" height="50"><text class="d"><tspan x="50%" y="14.5">Sho</tspan><tspan x="50%" y="29.2">w</tspan><tspan x="50%" y="43.9">Desk</tspan></text></svg></g>
<g id="k5-3c3"><rect class="g" x="133.5" y="166.5" width="37" height="51"/><svg x="134" y="167" width="36" height="50"><text class="d"><tspan x="50%" y="14.5">Sho</tspan><tspan x="50%" y="29.2">w</tspan><tspan x="50%" y="43.9">Mini</tspan></text></svg></g>
<g id="k5-3c4"><rect class="g" x="171.5" y="166.5" width="37" height="51"/></g>
<g id="k5-3c5"><rect class="g" x="209.5" y="166.5" width="37" height="51"/></g>
<g id="k5-3c6"><rect class="g" x="247.5" y="166.5" width="37" height="51"/></g>
<g id="k5-3c7"><rect class="g" x="285.5" y="166.5" width="36" height="51"/><svg x="286" y="167" width="35" height="50"><text class="a" x="50%" y="40.5">6</text></svg></g>
<g id="k5-3c8"><rect class="g" x="322.5" y="166.5" width="37" height="51"/><svg x="323" y="167" width="36" height="50"><text class="a" x="50%" y="40.5">7</text></svg></g>
<g id="k5-3c9"><rect class="g" x="360.5" y="166.5" width="37" height="51"/><svg x="361" y="167" width="36" height="50"><text class="a" x="50%" y="40.5">8</text></svg></g>
<g id="k5-hc0"><rect class="t" x="20.5" y="218.5" width="37" height="51"/><svg x="21" y="219" width="36" height="50"><text class="c"><tspan x="50%" y="18">Thu</tspan><tspan x="50%" y="35.7">mb</tspan></text></svg></g>
<g id="k5-hc1"><rect class="p" x="58.5" y="218.5" width="37" height="51"/><svg x="59" y="219" width="36" height="50"><text class="c"><tspan x="50%" y="18">Blo</tspan><tspan x="50%" y="35.7">cke</tspan><tspan x="50%" y="53.4">d</tspan></text></svg></g>
<g id="k5-hw"><rect class="g" x="96.5" y="218.5" width="225" height="51"/><svg x="97" y="219" width="224" height="50"><text class="d" x="50%" y="14.5">Start Program</text></svg></g>
<g id="k5-hc8"><rect class="p" x="322.5" y="218.5" width="37" height="51"/><svg x="323" y="219" width="36" height="50"><text class="c"><tspan x="50%" y="18">Blo</tspan><tspan x="50%" y="35.7">cke</tspan><tspan x="50%" y="53.4">d</tspan></text></svg></g>
<g id="k5-hc9"><rect class="p" x="360.5" y="218.5" width="37" height="51"/><svg x="361" y="219" width="36" height="50"><text class="c"><tspan x="50%" y="18">Blo</tspan><tspan x="50%" y="35.7">cke</tspan><tspan x="50%" y="53.4">d</tspan></text></svg></g>
</g>

<g id="panel6" transform="translate(418,600)">
<g id="k6-tc1"><rect class="g" x="58.5" y="10.5" width="37" height="51"/><svg x="59" y="11" width="36" height="50"><text class="d"><tspan x="50%" y="14.5">Dese</tspan><tspan x="50%" y="29.2">lOcc</tspan><tspan x="50%" y="43.9">urre</tspan></text></svg></g>
<g id="k6-tc2"><rect class="g" x="96.5" y="10.5" width="36" height="51"/><svg x="97" y="11" width="35" height="50"><text class="d"><tspan x="50%" y="14.5">SelO</tspan><tspan x="50%" y="29.2">ccur</tspan><tspan x="50%" y="43.9">ence</tspan></text></svg></g>
<g id="k6-tc7"><rect class="g" x="285.5" y="10.5" width="36" height="51"/></g>
<g id="k6-tc8"><rect class="g" x="322.5" y="10.5" width="37" height="51"/></g>
<g id="k6-1c0"><rect class="g" x="20.5" y="62.5" width="37" height="51"/><svg x="21" y="63" width="36" height="50"><text class="c"><tspan x="50%" y="18">Sel</tspan><tspan x="50%" y="35.7">BoP</tspan></text></svg></g>
<g id="k6-1c1"><rect class="g" x="58.5" y="62.5" width="37" height="51"/><svg x="59" y="63" width="36" height="50"><text class="c"><tspan x="50%" y="18">Sel</tspan><tspan x="50%" y="35.7">PgD</tspan></text></svg></g>
<g id="k6-1c2"><rect class="g" x="96.5" y="62.5" width="36" height="51"/><svg x="97" y="63" width="35" height="50"><text class="c"><tspan x="50%" y="18">Sel</tspan><tspan x="50%" y="35.7">Do</tspan><tspan x="50%" y="53.4">wn</tspan></text></svg></g>
<g id="k6-1c3"><rect class="g" x="133.5" y="62.5" width="37" height="51"/></g>
<g id="k6-1c4"><rect class="g" x="171.5" y="62.5" width="37" height="51"/></g>
<g id="k6-1c5"><rect class="g" x="209.5" y="62.5" width="37" height="51"/></g>
<g id="k6-1c6"><rect class="g" x="247.5" y="62.5" width="37" height="51"/><svg x="248" y="63" width="36" height="50"><text class="c"><tspan x="50%" y="18">Sel</tspan><tspan x="50%" y="35.7">Shri</tspan><tspan x="50%" y="53.4">nk</tspan></text></svg></g>
<g id="k6-1c7"><rect class="g" x="285.5" y="62.5" width="36" height="51"/><svg x="286" y="63" width="35" height="50"><text class="c"><tspan x="50%" y="18">Sel</tspan><tspan x="50%" y="35.7">Rig</tspan><tspan x="50%" y="53.4">ht</tspan></text></svg></g>
<g id="k6-1c8"><rect class="g" x="322.5" y="62.5" width="37" height="51"/><svg x="323" y="63" width="36" height="50"><text class="c"><tspan x="50%" y="18">Sel</tspan><tspan x="50%" y="35.7">Wri</tspan><tspan x="50%" y="53.4">ght</tspan></text></svg></g>
<g id="k6-1c9"><rect class="g" x="360.5" y="62.5" width="37" height="51"/><svg x="361" y="63" width="36" height="50"><text class="c"><tspan x="50%" y="18">Sel</tspan><tspan x="50%" y="35.7">BoL</tspan></text></svg></g>
<g id="k6-2c0"><rect class="g" x="20.5" y="114.5" width="37" height="51"/><svg x="21" y="115" width="36" height="50"><text class="c"><tspan x="50%" y="18">Sel</tspan><tspan x="50%" y="35.7">EoP</tspan></text></svg></g>
<g id="k6-2c1"><rect class="g" x="58.5" y="114.5" width="37" height="51"/><svg x="59" y="115" width="36" height="50"><text class="c"><tspan x="50%" y="18">Sel</tspan><tspan x="50%" y="35.7">PgU</tspan><tspan x="50%" y="53.4">p</tspan></text></svg></g>
<g id="k6-2c2"><rect class="g" x="96.5" y="114.5" width="36" height="51"/><svg x="97" y="115" width="35" height="50"><text class="c"><tspan x="50%" y="18">Sel</tspan><tspan x="50%" y="35.7">Up</tspan></text></svg></g>
<g id="k6-2c3"><rect class="g" x="133.5" y="114.5" width="37" height="51"/><svg x="134" y="115" width="36" height="50"><text class="d"><tspan x="50%" y="14.5">Sele</tspan><tspan x="50%" y="29.2">ct All</tspan></text></svg></g>
<g id="k6-2c4"><rect class="g" x="171.5" y="114.5" width="37" height="51"/></g>
<g id="k6-2c5"><rect class="g" x="209.5" y="114.5" width="37" height="51"/></g>
<g id="k6-2c6"><rect class="g" x="247.5" y="114.5" width="37" height="51"/><svg x="248" y="115" width="36" height="50"><text class="c"><tspan x="50%" y="18">Sel</tspan><tspan x="50%" y="35.7">Ext</tspan><tspan x="50%" y="53.4">end</tspan></text></svg></g>
<g id="k6-2c7"><rect class="g" x="285.5" y="114.5" width="36" height="51"/><svg x="286" y="115" width="35" height="50"><text class="c"><tspan x="50%" y="18">Sel</tspan><tspan x="50%" y="35.7">Left</tspan></text></svg></g>
<g id="k6-2c8"><rect class="g" x="322.5" y="114.5" width="37" height="51"/><svg x="323" y="115" width="36" height="50"><text class="c"><tspan x="50%" y="18">Sel</tspan><tspan x="50%" y="35.7">Wle</tspan><tspan x="50%" y="53.4">ft</tspan></text></svg></g>
<g id="k6-2c9"><rect class="g" x="360.5" y="114.5" width="37" height="51"/><svg x="361" y="115" width="36" height="50"><text class="c"><tspan x="50%" y="18">Sel</tspan><tspan x="50%" y="35.7">EoL</tspan></text></svg></g>
<g id="k6-3c0"><rect class="p" x="20.5" y="166.5" width="37" height="51"/><svg x="21" y="167" width="36" height="50"><text class="c"><tspan x="50%" y="18">Blo</tspan><tspan x="50%" y="35.7">cke</tspan><tspan x="50%" y="53.4">d</tspan></text></svg></g>
<g id="k6-3c1"><rect class="p" x="58.5" y="166.5" width="37" height="51"/><svg x="59" y="167" width="36" height="50"><text class="c"><tspan x="50%" y="18">Blo</tspan><tspan x="50%" y="35.7">cke</tspan><tspan x="50%" y="53.4">d</tspan></text></svg></g>
<g id="k6-3c2"><rect class="p" x="96.5" y="166.5" width="36" height="51"/><svg x="97" y="167" width="35" height="50"><text class="c"><tspan x="50%" y="18">Blo</tspan><tspan x="50%" y="35.7">cke</tspan><tspan x="50%" y="53.4">d</tspan></text></svg></g>
<g id="k6-3c3"><rect class="p" x="133.5" y="166.5" width="37" height="51"/><svg x="134" y="167" width="36" height="50"><text class="c"><tspan x="50%" y="18">Blo</tspan><tspan x="50%" y="35.7">cke</tspan><tspan x="50%" y="53.4">d</tspan></text></svg></g>
<g id="k6-3c4"><rect class="p" x="171.5" y="166.5" width="37" height="51"/><svg x="172" y="167" width="36" height="50"><text class="c"><tspan x="50%" y="18">Blo</tspan><tspan x="50%" y="35.7">cke</tspan><tspan x="50%" y="53.4">d</tspan></text></svg></g>
<g id="k6-3c5"><rect class="p" x="209.5" y="166.5" width="37" height="51"/><svg x="210" y="167" width="36" height="50"><text class="c"><tspan x="50%" y="18">Blo</tspan><tspan x="50%" y="35.7">cke</tspan><tspan x="50%" y="53.4">d</tspan></text></svg></g>
<g id="k6-3c6"><rect class="p" x="247.5" y="166.5" width="37" height="51"/><svg x="248" y="167" width="36" height="50"><text class="c"><tspan x="50%" y="18">Blo</tspan><tspan x="50%" y="35.7">cke</tspan><tspan x="50%" y="53.4">d</tspan></text></svg></g>
<g id="k6-3c7"><rect class="p" x="285.5" y="166.5" width="36" height="51"/><svg x="286" y="167" width="35" height="50"><text class="c"><tspan x="50%" y="18">Blo</tspan><tspan x="50%" y="35.7">cke</tspan><tspan x="50%" y="53.4">d</tspan></text></svg></g>
<g id="k6-3c8"><rect class="p" x="322.5" y="166.5" width="37" height="51"/><svg x="323" y="167" width="36" height="50"><text class="c"><tspan x="50%" y="18">Blo</tspan><tspan x="50%" y="35.7">cke</tspan><tspan x="50%" y="53.4">d</tspan></text></svg></g>
<g id="k6-3c9"><rect class="p" x="360.5" y="166.5" width="37" height="51"/><svg x="361" y="167" width="36" height="50"><text class="c"><tspan x="50%" y="18">Blo</tspan><tspan x="50%" y="35.7">cke</tspan><tspan x="50%" y="53.4">d</tspan></text></svg></g>
<g id="k6-hc0"><rect class="p" x="20.5" y="218.5" width="37" height="51"/><svg x="21" y="219" width="36" height="50"><text class="c"><tspan x="50%" y="18">Blo</tspan><tspan x="50%" y="35.7">cke</tspan><tspan x="50%" y="53.4">d</tspan></text></svg></g>
<g id="k6-hc1"><rect class="t" x="58.5" y="218.5" width="37" height="51"/><svg x="59" y="219" width="36" height="50"><text class="c"><tspan x="50%" y="18">Thu</tspan><tspan x="50%" y="35.7">mb</tspan></text></svg></g>
<g id="k6-hw"><rect class="p" x="96.5" y="218.5" width="225" height="51"/><svg x="97" y="219" width="224" height="50"><text class="c" x="50%" y="18">Blocked</text></svg></g>
<g id="k6-hc8"><rect class="t" x="322.5" y="218.5" width="37" height="51"/><svg x="323" y="219" width="36" height="50"><text class="c"><tspan x="50%" y="18">Thu</tspan><tspan x="50%" y="35.7">mb</tspan></text></svg></g>
<g id="k6-hc9"><rect class="p" x="360.5" y="218.5" width="37" height="51"/><svg x="361" y="219" width="36" height="50"><text class="c"><tspan x="50%" y="18">Blo</tspan><tspan x="50%" y="35.7">cke</tspan><tspan x="50%" y="53.4">d</tspan></text></svg></g>
</g>

<g id="panel7" transform="translate(0,900)">
<g id="k7-tc1"><rect class="g" x="58.5" y="10.5" width="37" height="51"/><svg x="59" y="11" width="36" height="50"><text class="c"><tspan x="50%" y="18">Sle</tspan><tspan x="50%" y="35.7">ep</tspan></text></svg></g>
<g id="k7-tc2"><rect class="g" x="96.5" y="10.5" width="36" height="51"/><svg x="97" y="11" width="35" height="50"><text class="c"><tspan x="50%" y="18">Get</tspan><tspan x="50%" y="35.7">info</tspan></text></svg></g>
<g id="k7-tc7"><rect class="g" x="285.5" y="10.5" width="36" height="51"/></g>
<g id="k7-tc8"><rect class="g" x="322.5" y="10.5" width="37" height="51"/></g>
<g id="k7-1c0"><rect class="g" x="20.5" y="62.5" width="37" height="51"/><svg x="21" y="63" width="36" height="50"><text class="c"><tspan x="50%" y="18">Upp</tspan><tspan x="50%" y="35.7">erL</tspan><tspan x="50%" y="53.4">eft</tspan></text></svg></g>
<g id="k7-1c1"><rect class="g" x="58.5" y="62.5" width="37" height="51"/><svg x="59" y="63" width="36" height="50"><text class="b" x="50%" y="23">F2</text></svg></g>
<g id="k7-1c2"><rect class="g" x="96.5" y="62.5" width="36" height="51"/><svg x="97" y="63" width="35" height="50"><text class="c"><tspan x="50%" y="18">Cm</tspan><tspan x="50%" y="35.7">dEn</tspan><tspan x="50%" y="53.4">ter</tspan></text></svg></g>
<g id="k7-1c3"><rect class="g" x="133.5" y="62.5" width="37" height="51"/></g>
<g id="k7-1c4"><rect class="g" x="171.5" y="62.5" width="37" height="51"/></g>
<g id="k7-1c5"><rect class="g" x="209.5" y="62.5" width="37" height="51"/></g>
<g id="k7-1c6"><rect class="g" x="247.5" y="62.5" width="37" height="51"/></g>
<g id="k7-1c7"><rect class="g" x="285.5" y="62.5" width="36" height="51"/></g>
<g id="k7-1c8"><rect class="g" x="322.5" y="62.5" width="37" height="51"/></g>
<g id="k7-1c9"><rect class="g" x="360.5" y="62.5" width="37" height="51"/><svg x="361" y="63" width="36" height="50"><text class="d"><tspan x="50%" y="14.5">Upp</tspan><tspan x="50%" y="29.2">erRig</tspan><tspan x="50%" y="43.9">ht</tspan></text></svg></g>
<g id="k7-2c0"><rect class="g" x="20.5" y="114.5" width="37" height="51"/><svg x="21" y="115" width="36" height="50"><text class="c"><tspan x="50%" y="18">Left</tspan><tspan x="50%" y="35.7">Half</tspan></text></svg></g>
<g id="k7-2c1"><rect class="g" x="58.5" y="114.5" width="37" height="51"/><svg x="59" y="115" width="36" height="50"><text class="d"><tspan x="50%" y="14.5">FullS</tspan><tspan x="50%" y="29.2">cree</tspan><tspan x="50%" y="43.9">n</tspan></text></svg></g>
<g id="k7-2c2"><rect class="g" x="96.5" y="114.5" width="36" height="51"/></g>
<g id="k7-2c3"><rect class="g" x="133.5" y="114.5" width="37" height="51"/></g>
<g id="k7-2c4"><rect class="g" x="171.5" y="114.5" width="37" height="51"/></g>
<g id="k7-2c5"><rect class="g" x="209.5" y="114.5" width="37" height="51"/></g>
<g id="k7-2c6"><rect class="g" x="247.5" y="114.5" width="37" height="51"/></g>
<g id="k7-2c7"><rect class="g" x="285.5" y="114.5" width="36" height="51"/></g>
<g id="k7-2c8"><rect class="g" x="322.5" y="114.5" width="37" height="51"/></g>
<g id="k7-2c9"><rect class="g" x="360.5" y="114.5" width="37" height="51"/><svg x="361" y="115" width="36" height="50"><text class="c"><tspan x="50%" y="18">Rig</tspan><tspan x="50%" y="35.7">htH</tspan><tspan x="50%" y="53.4">alf</tspan></text></svg></g>
<g id="k7-3c0"><rect class="g" x="20.5" y="166.5" width="37" height="51"/><svg x="21" y="167" width="36" height="50"><text class="c"><tspan x="50%" y="18">Low</tspan><tspan x="50%" y="35.7">erL</tspan><tspan x="50%" y="53.4">eft</tspan></text></svg></g>
<g id="k7-3c1"><rect class="g" x="58.5" y="166.5" width="37" height="51"/><svg x="59" y="167" width="36" height="50"><text class="d"><tspan x="50%" y="14.5">Ope</tspan><tspan x="50%" y="29.2">n</tspan><tspan x="50%" y="43.9">Devt</tspan></text></svg></g>
<g id="k7-3c2"><rect class="g" x="96.5" y="166.5" width="36" height="51"/><svg x="97" y="167" width="35" height="50"><text class="c"><tspan x="50%" y="18">Insp</tspan><tspan x="50%" y="35.7">ect</tspan></text></svg></g>
<g id="k7-3c3"><rect class="g" x="133.5" y="166.5" width="37" height="51"/></g>
<g id="k7-3c4"><rect class="g" x="171.5" y="166.5" width="37" height="51"/></g>
<g id="k7-3c5"><rect class="g" x="209.5" y="166.5" width="37" height="51"/></g>
<g id="k7-3c6"><rect class="g" x="247.5" y="166.5" width="37" height="51"/></g>
<g id="k7-3c7"><rect class="g" x="285.5" y="166.5" width="36" height="51"/></g>
<g id="k7-3c8"><rect class="g" x="322.5" y="166.5" width="37" height="51"/></g>
<g id="k7-3c9"><rect class="g" x="360.5" y="166.5" width="37" height="51"/><svg x="361" y="167" width="36" height="50"><text class="d"><tspan x="50%" y="14.5">Lowe</tspan><tspan x="50%" y="29.2">rRigh</tspan><tspan x="50%" y="43.9">t</tspan></text></svg></g>
<g id="k7-hc0"><rect class="t" x="20.5" y="218.5" width="37" height="51"/><svg x="21" y="219" width="36" height="50"><text class="c"><tspan x="50%" y="18">Thu</tspan><tspan x="50%" y="35.7">mb</tspan></text></svg></g>
<g id="k7-hc1"><rect class="p" x="58.5" y="218.5" width="37" height="51"/><svg x="59" y="219" width="36" height="50"><text class="c"><tspan x="50%" y="18">Blo</tspan><tspan x="50%" y="35.7">cke</tspan><tspan x="50%" y="53.4">d</tspan></text></svg></g>
<g id="k7-hw"><rect class="g" x="96.5" y="218.5" width="225" height="51"/></g>
<g id="k7-hc8"><rect class="t" x="322.5" y="218.5" width="37" height="51"/><svg x="323" y="219" width="36" height="50"><text class="c"><tspan x="50%" y="18">Thu</tspan><tspan x="50%" y="35.7">mb</tspan></text></svg></g>
<g id="k7-hc9"><rect class="p" x="360.5" y="218.5" width="37" height="51"/><svg x="361" y="219" width="36" height="50"><text class="c"><tspan x="50%" y="18">Blo</tspan><tspan x="50%" y="35.7">cke</tspan><tspan x="50%" y="53.4">d</tspan></text></svg></g>
</g>

<g id="panel8" transform="translate(418,900)">
<g id="k8-tc1"><rect class="g" x="58.5" y="10.5" width="37" height="51"/></g>
<g id="k8-tc2"><rect class="g" x="96.5" y="10.5" width="36" height="51"/></g>
<g id="k8-tc7"><rect class="g" x="285.5" y="10.5" width="36" height="51"/></g>
<g id="k8-tc8"><rect class="g" x="322.5" y="10.5" width="37" height="51"/></g>
<g id="k8-1c0"><rect class="g" x="20.5" y="62.5" width="37" height="51"/></g>
<g id="k8-1c1"><rect class="g" x="58.5" y="62.5" width="37" height="51"/></g>
<g id="k8-1c2"><rect class="g" x="96.5" y="62.5" width="36" height="51"/></g>
<g id="k8-1c3"><rect class="g" x="133.5" y="62.5" width="37" height="51"/></g>
<g id="k8-1c4"><rect class="g" x="171.5" y="62.5" width="37" height="51"/></g>
<g id="k8-1c5"><rect class="g" x="209.5" y="62.5" width="37" height="51"/></g>
<g id="k8-1c6"><rect class="g" x="247.5" y="62.5" width="37" height="51"/></g>
<g id="k8-1c7"><rect class="g" x="285.5" y="62.5" width="36" height="51"/></g>
<g id="k8-1c8"><rect class="g" x="322.5" y="62.5" width="37" height="51"/></g>
<g id="k8-1c9"><rect class="g" x="360.5" y="62.5" width="37" height="51"/></g>
<g id="k8-2c0"><rect class="g" x="20.5" y="114.5" width="37" height="51"/></g>
<g id="k8-2c1"><rect class="g" x="58.5" y="114.5" width="37" height="51"/></g>
<g id="k8-2c2"><rect class="g" x="96.5" y="114.5" width="36" height="51"/></g>
<g id="k8-2c3"><rect class="g" x="133.5" y="114.5" width="37" height="51"/></g>
<g id="k8-2c4"><rect class="g" x="171.5" y="114.5" width="37" height="51"/></g>
<g id="k8-2c5"><rect class="g" x="209.5" y="114.5" width="37" height="51"/></g>
<g id="k8-2c6"><rect class="g" x="247.5" y="114.5" width="37" height="51"/></g>
<g id="k8-2c7"><rect class="g" x="285.5" y="114.5" width="36" height="51"/></g>
<g id="k8-2c8"><rect class="g" x="322.5" y="114.5" width="37" height="51"/></g>
<g id="k8-2c9"><rect class="g" x="360.5" y="114.5" width="37" height="51"/></g>
<g id="k8-3c0"><rect class="g" x="20.5" y="166.5" width="37" height="51"/></g>
<g id="k8-3c1"><rect class="g" x="58.5" y="166.5" width="37" height="51"/></g>
<g id="k8-3c2"><rect class="g" x="96.5" y="166.5" width="36" height="51"/></g>
<g id="k8-3c3"><rect class="g" x="133.5" y="166.5" width="37" height="51"/></g>
<g id="k8-3c4"><rect class="g" x="171.5" y="166.5" width="37" height="51"/></g>
<g id="k8-3c5"><rect class="g" x="209.5" y="166.5" width="37" height="51"/></g>
<g id="k8-3c6"><rect class="g" x="247.5" y="166.5" width="37" height="51"/></g>
<g id="k8-3c7"><rect class="g" x="285.5" y="166.5" width="36" height="51"/></g>
<g id="k8-3c8"><rect class="g" x="322.5" y="166.5" width="37" height="51"/></g>
<g id="k8-3c9"><rect class="g" x="360.5" y="166.5" width="37" height="51"/></g>
<g id="k8-hc0"><rect class="p" x="20.5" y="218.5" width="37" height="51"/><svg x="21" y="219" width="36" height="50"><text class="c"><tspan x="50%" y="18">Blo</tspan><tspan x="50%" y="35.7">cke</tspan><tspan x="50%" y="53.4">d</tspan></text></svg></g>
<g id="k8-hc1"><rect class="t" x="58.5" y="218.5" width="37" height="51"/><svg x="59" y="219" width="36" height="50"><text class="c"><tspan x="50%" y="18">Thu</tspan><tspan x="50%" y="35.7">mb</tspan></text></svg></g>
<g id="k8-hw"><rect class="g" x="96.5" y="218.5" width="225" height="51"/></g>
<g id="k8-hc8"><rect class="p" x="322.5" y="218.5" width="37" height="51"/><svg x="323" y="219" width="36" height="50"><text class="c"><tspan x="50%" y="18">Blo</tspan><tspan x="50%" y="35.7">cke</tspan><tspan x="50%" y="53.4">d</tspan></text></svg></g>
<g id="k8-hc9"><rect class="t" x="360.5" y="218.5" width="37" height="51"/><svg x="361" y="219" width="36" height="50"><text class="c"><tspan x="50%" y="18">Thu</tspan><tspan x="50%" y="35.7">mb</tspan></text></svg></g>
</g>
</svg>
